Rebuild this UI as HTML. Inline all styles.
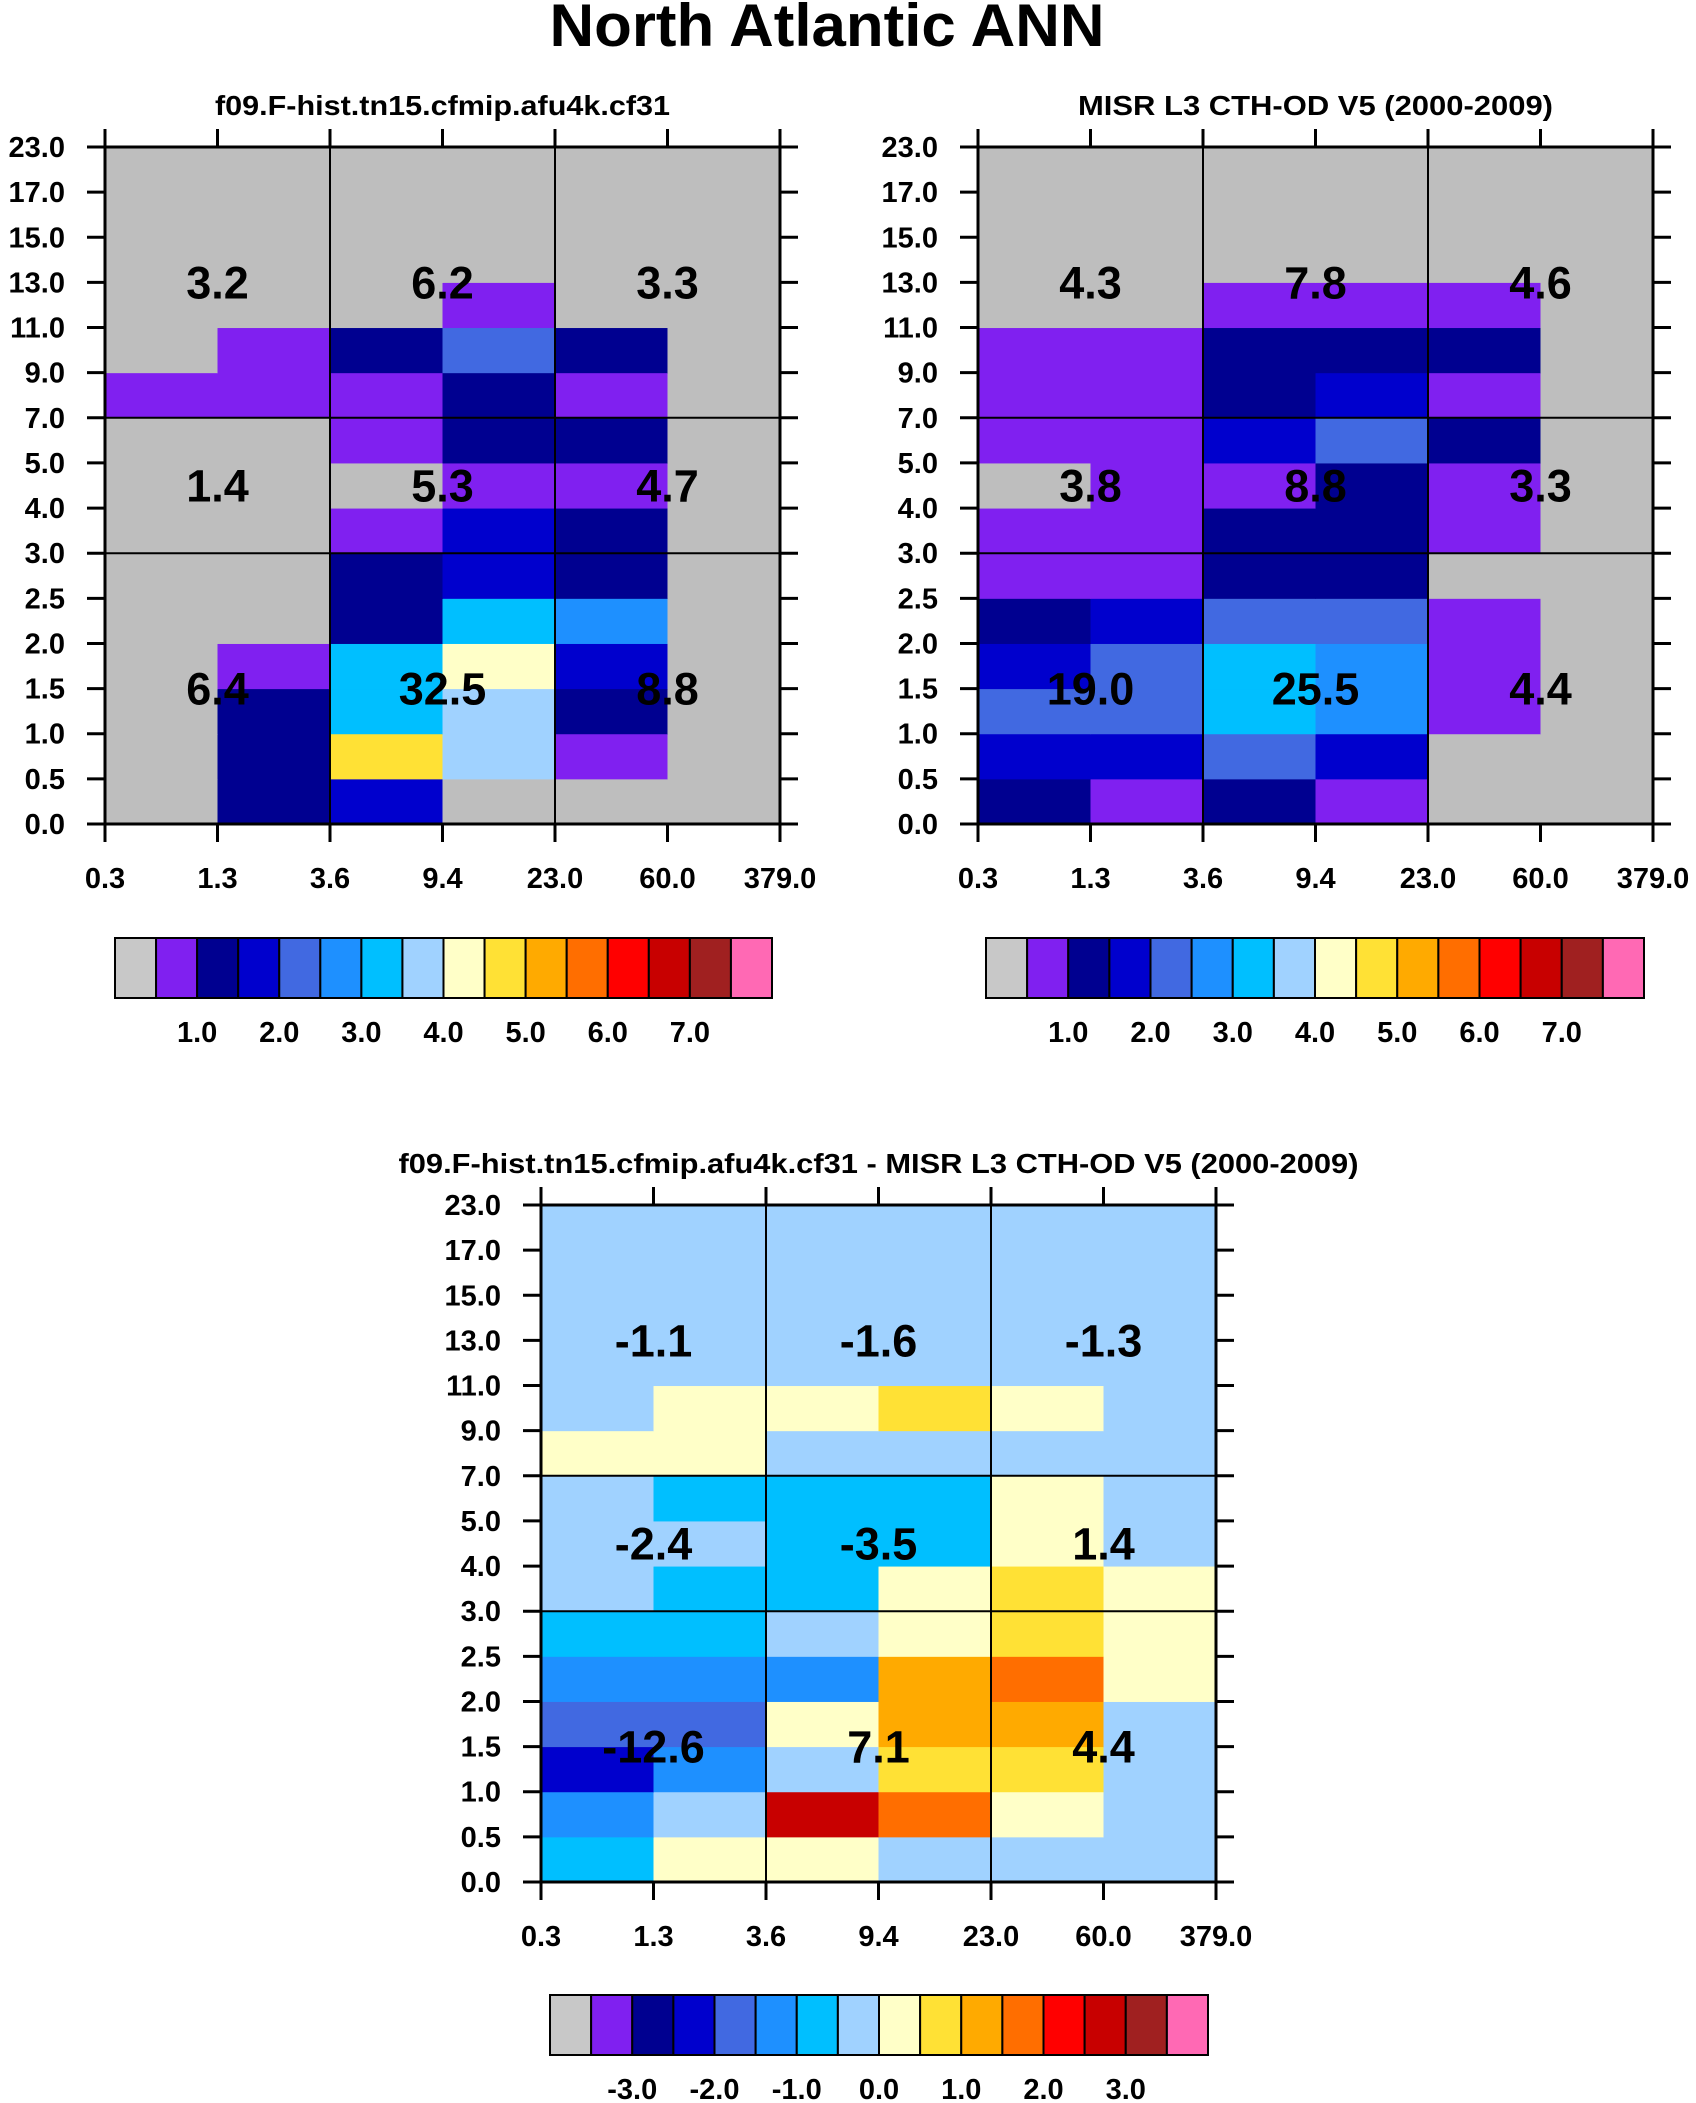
<!DOCTYPE html>
<html><head><meta charset="utf-8"><style>
html,body{margin:0;padding:0;background:#fff;}
svg{display:block;font-family:"Liberation Sans",sans-serif;font-weight:bold;}
</style></head><body>
<svg id="fig" width="1696" height="2103" viewBox="0 0 1696 2103" xmlns="http://www.w3.org/2000/svg">
<text x="827" y="46" font-size="60" text-anchor="middle" textLength="555" lengthAdjust="spacingAndGlyphs">North Atlantic ANN</text>
</svg>
<script>
// axis tick labels
const xTickLabels = ["0.3","1.3","3.6","9.4","23.0","60.0","379.0"];
const yTickLabels = ["0.0","0.5","1.0","1.5","2.0","2.5","3.0","4.0","5.0","7.0","9.0","11.0","13.0","15.0","17.0","23.0"];
// row bins as tick-index ranges (bottom to top)
const rowBins = [[0,1],[1,2],[2,3],[3,4],[4,5],[5,6],[6,7],[7,8],[8,9],[9,10],[10,11],[11,12],[12,15]];
const palette = ["#bebebe","#8020f0","#000090","#0000cd","#4169e1","#1e90ff","#00bfff","#a0d2ff","#ffffc8","#ffe135","#ffaa00","#ff6e00","#ff0000","#c80000","#a02020","#ff69b4"];
const absLabels = ["1.0","2.0","3.0","4.0","5.0","6.0","7.0"];
const diffLabels = ["-3.0","-2.0","-1.0","0.0","1.0","2.0","3.0"];
// model values (rows bottom->top, columns 0..5)
const modelValues = [
 [0.2,1.2,1.7,0.2,0.2,0.2],
 [0.2,1.2,4.7,3.7,0.7,0.2],
 [0.2,1.2,3.2,3.7,1.2,0.2],
 [0.2,0.7,3.2,4.2,1.7,0.2],
 [0.2,0.2,1.2,3.2,2.7,0.2],
 [0.2,0.2,1.2,1.7,1.2,0.2],
 [0.2,0.2,0.7,1.7,1.2,0.2],
 [0.2,0.2,0.2,0.7,0.7,0.2],
 [0.2,0.2,0.7,1.2,1.2,0.2],
 [0.7,0.7,0.7,1.2,0.7,0.2],
 [0.2,0.7,1.2,2.2,1.2,0.2],
 [0.2,0.2,0.2,0.7,0.2,0.2],
 [0.2,0.2,0.2,0.2,0.2,0.2]];
const modelTotals = [["6.4","32.5","8.8"],["1.4","5.3","4.7"],["3.2","6.2","3.3"]];
const obsValues = [
 [1.2,0.7,1.2,0.7,0.2,0.2],
 [1.7,1.7,2.2,1.7,0.2,0.2],
 [2.2,2.2,3.2,2.7,0.7,0.2],
 [1.7,2.2,3.2,2.7,0.7,0.2],
 [1.2,1.7,2.2,2.2,0.7,0.2],
 [0.7,0.7,1.2,1.2,0.2,0.2],
 [0.7,0.7,1.2,1.2,0.7,0.2],
 [0.2,0.7,0.7,1.2,0.7,0.2],
 [0.7,0.7,1.7,2.2,1.2,0.2],
 [0.7,0.7,1.2,1.7,0.7,0.2],
 [0.7,0.7,1.2,1.2,1.2,0.2],
 [0.2,0.2,0.7,0.7,0.7,0.2],
 [0.2,0.2,0.2,0.2,0.2,0.2]];
const obsTotals = [["19.0","25.5","4.4"],["3.8","8.8","3.3"],["4.3","7.8","4.6"]];
const diffValues = [
 [-0.75,0.25,0.25,-0.25,-0.25,-0.25],
 [-1.25,-0.25,2.75,1.75,0.25,-0.25],
 [-2.25,-1.25,-0.25,0.75,0.75,-0.25],
 [-1.75,-1.75,0.25,1.25,1.25,-0.25],
 [-1.25,-1.25,-1.25,1.25,1.75,0.25],
 [-0.75,-0.75,-0.25,0.25,0.75,0.25],
 [-0.25,-0.75,-0.75,0.25,0.75,0.25],
 [-0.25,-0.25,-0.75,-0.75,0.25,-0.25],
 [-0.25,-0.75,-0.75,-0.75,0.25,-0.25],
 [0.25,0.25,-0.25,-0.25,-0.25,-0.25],
 [-0.25,0.25,0.25,0.75,0.25,-0.25],
 [-0.25,-0.25,-0.25,-0.25,-0.25,-0.25],
 [-0.25,-0.25,-0.25,-0.25,-0.25,-0.25]];
const diffTotals = [["-12.6","7.1","4.4"],["-2.4","-3.5","1.4"],["-1.1","-1.6","-1.3"]];

const NS="http://www.w3.org/2000/svg";
const svg=document.getElementById('fig');
function mk(tag,attrs,parent){const e=document.createElementNS(NS,tag);for(const k in attrs)e.setAttribute(k,attrs[k]);(parent||svg).appendChild(e);return e;}

function drawPanel(key,x0,y0,title,titleLen,values,totals,lo,cb){
  const W=675,H=677;
  const g=mk('g',{});
  
  
  const xs=i=>x0+i*W/(xTickLabels.length-1);
  const ys=i=>y0+H-i*H/(yTickLabels.length-1);
  const colorOf=v=>palette[Math.max(0,Math.min(15,Math.floor((v-lo)/0.5)))];
  values.forEach((row,r)=>row.forEach((v,c)=>{
    const [a,b]=rowBins[r];
    const rc=mk('rect',{x:xs(c),y:ys(b),width:xs(c+1)-xs(c)+0.5,height:ys(a)-ys(b)+0.5,fill:colorOf(v)},g);
    
    
  }));
  [2,4].forEach(i=>mk('line',{x1:xs(i),x2:xs(i),y1:y0,y2:y0+H,stroke:'#000','stroke-width':2},g));
  [6,9].forEach(i=>mk('line',{x1:x0,x2:x0+W,y1:ys(i),y2:ys(i),stroke:'#000','stroke-width':2},g));
  const tyIdx=[3,7.5,12];
  totals.forEach((row,r)=>row.forEach((t,c)=>{
    const tx=mk('text',{x:xs(2*c+1),y:ys(tyIdx[r])+16,'font-size':45,'text-anchor':'middle'},g);
    tx.textContent=t;
    
    
  }));
  mk('rect',{x:x0,y:y0,width:W,height:H,fill:'none',stroke:'#000','stroke-width':3},g);
  xTickLabels.forEach((l,i)=>{
    mk('line',{x1:xs(i),x2:xs(i),y1:y0-18,y2:y0,stroke:'#000','stroke-width':3},g);
    mk('line',{x1:xs(i),x2:xs(i),y1:y0+H,y2:y0+H+18,stroke:'#000','stroke-width':3},g);
    const t=mk('text',{x:xs(i),y:y0+H+64,'font-size':29,'text-anchor':'middle'},g);
    t.textContent=l;
    
    
  });
  yTickLabels.forEach((l,i)=>{
    mk('line',{x1:x0-18,x2:x0,y1:ys(i),y2:ys(i),stroke:'#000','stroke-width':3},g);
    mk('line',{x1:x0+W,x2:x0+W+18,y1:ys(i),y2:ys(i),stroke:'#000','stroke-width':3},g);
    const t=mk('text',{x:x0-40,y:ys(i)+10,'font-size':29,'text-anchor':'end'},g);
    t.textContent=l;
    
    
  });
  const tt=mk('text',{x:x0+W/2,y:y0-32,'font-size':28,'text-anchor':'middle',textLength:titleLen,lengthAdjust:'spacingAndGlyphs'},g);
  tt.textContent=title;
  
  
  const cx=cb.x, cw=cb.w/16;
  const cg=mk('g',{},g);
  
  
  palette.forEach((col,i)=>{
    const r=mk('rect',{x:cx+i*cw,y:cb.y,width:cw,height:60,fill:i===0?'#c8c8c8':col,stroke:'#000','stroke-width':2},cg);
    
    
  });
  cb.labels.forEach((l,k)=>{
    const t=mk('text',{x:cx+(2+2*k)*cw,y:cb.y+104,'font-size':29,'text-anchor':'middle'},cg);
    t.textContent=l;
    
    
  });
}
drawPanel('model',105,147,'f09.F-hist.tn15.cfmip.afu4k.cf31',455,modelValues,modelTotals,0,{x:115,y:938,w:657,labels:absLabels});
drawPanel('obs',978,147,'MISR L3 CTH-OD V5 (2000-2009)',475,obsValues,obsTotals,0,{x:986,y:938,w:658,labels:absLabels});
drawPanel('diff',541,1205,'f09.F-hist.tn15.cfmip.afu4k.cf31 - MISR L3 CTH-OD V5 (2000-2009)',960,diffValues,diffTotals,-4,{x:550,y:1995,w:658,labels:diffLabels});
</script>
</body></html>
